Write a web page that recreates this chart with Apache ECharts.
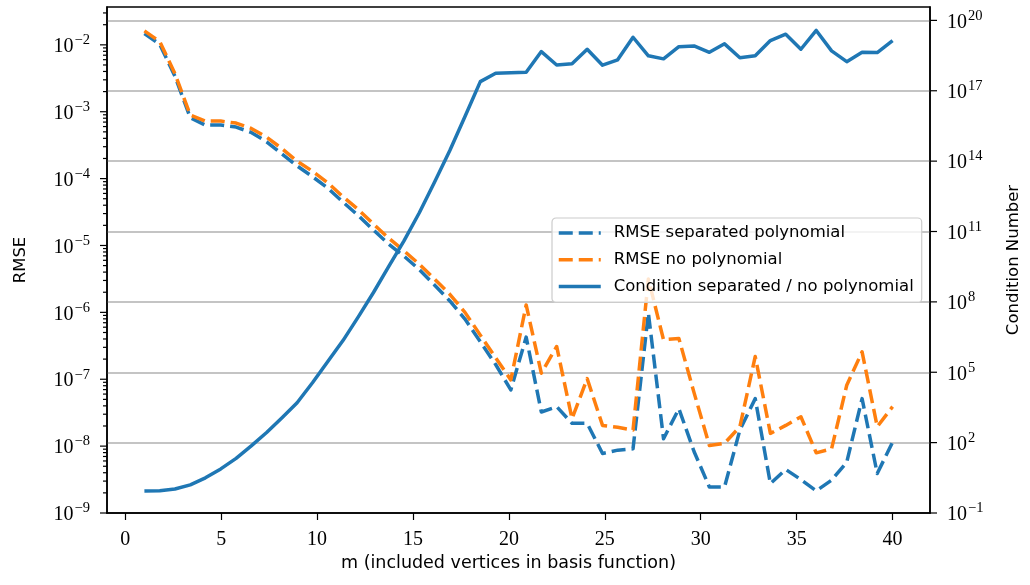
<!DOCTYPE html>
<html>
<head>
<meta charset="utf-8">
<script src="https://cdn.jsdelivr.net/npm/echarts@6.0.0/dist/echarts.min.js"></script>
<style>
  html, body { margin: 0; background: #fff; }
  #chart { width: 1030px; height: 585px; }
</style>
</head>
<body>
<div id="chart"></div>
<script>
// x positions of the samples (m)
const mValues = [1.00, 1.80, 2.59, 3.39, 4.18, 4.98, 5.78, 6.57, 7.37, 8.16,
  8.96, 9.76, 10.55, 11.35, 12.14, 12.94, 13.73, 14.53, 15.33, 16.12,
  16.92, 17.71, 18.51, 19.31, 20.10, 20.90, 21.69, 22.49, 23.29, 24.08,
  24.88, 25.67, 26.47, 27.27, 28.06, 28.86, 29.65, 30.45, 31.24, 32.04,
  32.84, 33.63, 34.43, 35.22, 36.02, 36.82, 37.61, 38.41, 39.20, 40.00];

const rmseSeparated = [1.48e-2, 1.02e-2, 3.39e-3, 8.13e-4, 6.31e-4, 6.31e-4, 5.89e-4, 4.90e-4, 3.55e-4, 2.34e-4,
  1.55e-4, 1.07e-4, 7.24e-5, 4.47e-5, 2.82e-5, 1.70e-5, 1.05e-5, 6.92e-6, 4.37e-6, 2.57e-6,
  1.48e-6, 7.94e-7, 3.63e-7, 1.66e-7, 6.92e-8, 4.27e-7, 3.24e-8, 3.89e-8, 2.19e-8, 2.19e-8,
  7.76e-9, 8.71e-9, 9.12e-9, 9.77e-7, 1.29e-8, 3.63e-8, 8.32e-9, 2.45e-9, 2.45e-9, 1.74e-8,
  5.13e-8, 2.75e-9, 4.47e-9, 3.16e-9, 2.14e-9, 3.09e-9, 5.75e-9, 5.13e-8, 3.89e-9, 1.15e-8];

const rmseNoPoly = [1.62e-2, 1.12e-2, 3.72e-3, 8.91e-4, 7.24e-4, 7.24e-4, 6.76e-4, 5.62e-4, 4.17e-4, 2.82e-4,
  1.82e-4, 1.29e-4, 8.71e-5, 5.37e-5, 3.47e-5, 2.09e-5, 1.29e-5, 8.32e-6, 5.25e-6, 3.16e-6,
  1.86e-6, 1.00e-6, 4.57e-7, 2.09e-7, 9.77e-8, 1.29e-6, 1.23e-7, 3.09e-7, 2.57e-8, 1.02e-7,
  2.04e-8, 1.91e-8, 1.74e-8, 3.16e-6, 3.89e-7, 4.07e-7, 6.31e-8, 1.02e-8, 1.10e-8, 1.95e-8,
  2.19e-7, 1.55e-8, 2.04e-8, 2.75e-8, 7.94e-9, 9.12e-9, 8.13e-8, 2.57e-7, 1.95e-8, 3.89e-8];

const conditionNumber = [0.87, 0.89, 1.05, 1.58, 3.16, 7.59, 21.4, 72.4, 269, 1.12e3,
  5.01e3, 3.55e4, 2.82e5, 2.24e6, 2.24e7, 2.51e8, 3.16e9, 3.98e10, 6.31e11, 1.26e13,
  2.82e14, 7.94e15, 2.45e17, 5.62e17, 5.89e17, 6.17e17, 4.68e18, 1.26e18, 1.41e18, 5.89e18,
  1.23e18, 2.09e18, 1.91e19, 3.09e18, 2.29e18, 7.59e18, 8.13e18, 4.37e18, 1.00e19, 2.57e18,
  3.09e18, 1.38e19, 2.57e19, 5.89e18, 3.72e19, 5.01e18, 1.74e18, 4.37e18, 4.27e18, 1.38e19];

// tick values
const xTicks = [0, 5, 10, 15, 20, 25, 30, 35, 40];
const rmseTicks = [1e-9, 1e-8, 1e-7, 1e-6, 1e-5, 1e-4, 1e-3, 1e-2];
const condTicks = [1e-1, 1e2, 1e5, 1e8, 1e11, 1e14, 1e17, 1e20];

// axis ranges
const rmseMin = 1e-9, rmseMax = 3.68e-2;
const condMin = 1e-1, condMax = 3.72e20;

const blue = '#1f77b4';
const orange = '#ff7f0e';
const sansFont = 'DejaVu Sans';
const serifFont = 'Liberation Serif';
const dash = [14, 6];

// minor ticks 2..9 per decade on the RMSE axis
const rmseMinorTicks = [];
rmseTicks.forEach(t => {
  for (let k = 2; k <= 9; k++) {
    const v = k * t;
    if (v < rmseMax) rmseMinorTicks.push(v);
  }
});

// 10^n label with superscript
const powLabel = value => {
  const e = Math.log10(value);
  if (Math.abs(e - Math.round(e)) > 1e-6) return '';
  const n = Math.round(e);
  return '{b|10}{s|' + (n < 0 ? '\u2212' + (-n) : n) + '}';
};
const powRich = {
  b: { fontFamily: serifFont, fontSize: 20, color: '#000', padding: [4, 0, 0, 0] },
  s: { fontFamily: serifFont, fontSize: 14.5, color: '#000', padding: [0, 0, 9, 1] }
};

// ticks drawn on the edge of the plot area through the y scale
const tickSeries = (values, yAxisIndex, side, len) => ({
  type: 'custom',
  yAxisIndex: yAxisIndex,
  silent: true,
  clip: false,
  z: 5,
  data: values.map(v => [0, v]),
  encode: { x: 0, y: 1 },
  renderItem: (params, api) => {
    const cs = params.coordSys;
    const y = api.coord([0, api.value(1)])[1];
    const x0 = side === 'left' ? cs.x : cs.x + cs.width;
    const x1 = side === 'left' ? x0 - len : x0 + len;
    return {
      type: 'line',
      shape: { x1: x0, y1: y, x2: x1, y2: y },
      style: { stroke: '#000', lineWidth: 1.2 }
    };
  }
});

const lineSeries = (name, values, color, yAxisIndex, dashed) => ({
  name: name,
  type: 'line',
  yAxisIndex: yAxisIndex,
  data: mValues.map((m, i) => [m, values[i]]),
  showSymbol: false,
  symbol: 'none',
  z: 2,
  itemStyle: { color: color },
  lineStyle: { color: color, width: 3.5, type: dashed ? dash : 'solid', join: 'round' }
});

const chart = echarts.init(document.getElementById('chart'));

chart.setOption({
  animation: false,
  backgroundColor: '#fff',
  grid: {
    left: 107, right: 99, top: 7, bottom: 72,
    show: true, borderColor: '#000', borderWidth: 1.5, backgroundColor: 'transparent'
  },
  legend: {
    data: ['RMSE separated polynomial', 'RMSE no polynomial', 'Condition separated / no polynomial'],
    orient: 'vertical',
    left: 552, top: 218,
    zlevel: 1, z: 10,
    itemWidth: 42, itemHeight: 14, itemGap: 6.7,
    padding: [5, 8, 6, 5],
    backgroundColor: 'rgba(255,255,255,0.8)',
    borderColor: '#cccccc', borderWidth: 1.2, borderRadius: 4,
    itemStyle: { opacity: 0 },
    lineStyle: { width: 3.5 },
    textStyle: { fontFamily: sansFont, fontSize: 16.5, color: '#000', lineHeight: 20, padding: [0, 0, 0, 8] }
  },
  xAxis: {
    type: 'value',
    min: -0.95, max: 41.95,
    name: 'm (included vertices in basis function)',
    nameLocation: 'middle', nameGap: 41,
    nameTextStyle: { fontFamily: sansFont, fontSize: 17.5, color: '#000', padding: [0, 20, 0, 0] },
    axisLine: { onZero: false, lineStyle: { color: '#000', width: 1.5 } },
    axisTick: { customValues: xTicks, length: 7, lineStyle: { color: '#000', width: 1.2 } },
    axisLabel: { customValues: xTicks, margin: 17, fontFamily: serifFont, fontSize: 20, color: '#000' },
    splitLine: { show: false }
  },
  yAxis: [
    {
      type: 'log', logBase: 10,
      min: rmseMin, max: rmseMax, interval: 1,
      position: 'left',
      name: 'RMSE', nameLocation: 'middle', nameGap: 78, nameRotate: 90,
      nameTextStyle: { fontFamily: sansFont, fontSize: 16.5, color: '#000' },
      axisLine: { show: true, onZero: false, lineStyle: { color: '#000', width: 1.5 } },
      axisTick: { show: false },
      axisLabel: { margin: 17, formatter: powLabel, rich: powRich, showMaxLabel: false },
      splitLine: { show: false }
    },
    {
      type: 'log', logBase: 10,
      min: condMin, max: condMax, interval: 3,
      position: 'right',
      name: 'Condition Number', nameLocation: 'middle', nameGap: 75, nameRotate: 90,
      nameTextStyle: { fontFamily: sansFont, fontSize: 16.5, color: '#000' },
      axisLine: { show: true, onZero: false, lineStyle: { color: '#000', width: 1.5 } },
      axisTick: { show: false },
      axisLabel: { margin: 17, formatter: powLabel, rich: powRich, showMaxLabel: false },
      splitLine: { show: true, showMinLine: false, showMaxLine: false, lineStyle: { color: '#b0b0b0', width: 1.5 } }
    }
  ],
  series: [
    lineSeries('RMSE separated polynomial', rmseSeparated, blue, 0, true),
    lineSeries('RMSE no polynomial', rmseNoPoly, orange, 0, true),
    lineSeries('Condition separated / no polynomial', conditionNumber, blue, 1, false),
    tickSeries(rmseTicks, 0, 'left', 7),
    tickSeries(rmseMinorTicks, 0, 'left', 4),
    tickSeries(condTicks, 1, 'right', 7)
  ]
});
</script>
</body>
</html>
